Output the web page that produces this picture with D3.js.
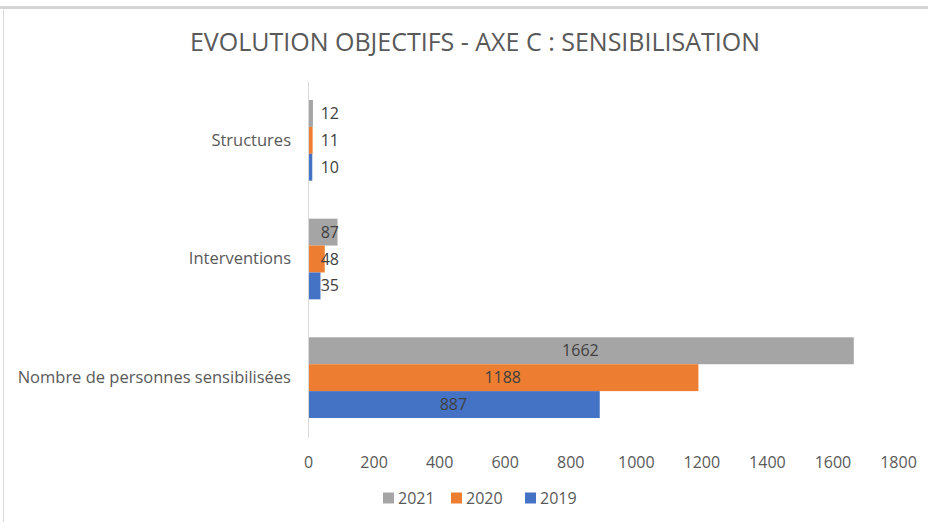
<!DOCTYPE html>
<meta charset="utf-8">
<script src="https://d3js.org/d3.v7.min.js"></script>
<style>
  body { margin: 0; background: #fff; }
  text { font-family: "Open Sans", "Noto Sans", sans-serif; }
</style>
<div id="chart"></div>
<script>

// data
var categories = ["Structures", "Interventions", "Nombre de personnes sensibilisées"];
var years = ["2021", "2020", "2019"];
var values2021 = [12, 87, 1662];
var values2020 = [11, 48, 1188];
var values2019 = [10, 35, 887];
var xTicks = [0, 200, 400, 600, 800, 1000, 1200, 1400, 1600, 1800];
var colors = ["#A5A5A5", "#ED7D31", "#4472C4"];

var series = [values2021, values2020, values2019];

var W = 928, H = 522;
var margin = {top: 81, right: 30, bottom: 85, left: 308};
var width = 898 - margin.left, height = H - margin.top - margin.bottom;

var svg = d3.select("#chart")
  .append("svg")
    .attr("width", W)
    .attr("height", H);

// frame lines from the screenshot
svg.append("line").attr("x1", 0).attr("x2", W).attr("y1", 7.5).attr("y2", 7.5)
  .style("stroke", "#d4d4d4").style("stroke-width", 3);
svg.append("line").attr("x1", 3.5).attr("x2", 3.5).attr("y1", 8).attr("y2", H)
  .style("stroke", "#d9d9d9").style("stroke-width", 1);

var g = svg.append("g")
  .attr("transform", "translate(" + margin.left + "," + margin.top + ")");

var x = d3.scaleLinear().domain([0, 1800]).range([0, width]);
var y = d3.scaleBand().domain(categories).range([0, height]).paddingInner(0.32).paddingOuter(0.16);
var ySub = d3.scaleBand().domain(years).range([0, y.bandwidth()]);

// title
svg.append("text")
  .attr("x", 475)
  .attr("y", 51)
  .attr("text-anchor", "middle")
  .style("font-size", "25px")
  .style("fill", "#595959")
  .text("EVOLUTION OBJECTIFS - AXE C : SENSIBILISATION");

// x axis (labels only)
var xAxis = g.append("g")
  .attr("transform", "translate(0," + (height + 17) + ")")
  .call(d3.axisBottom(x).tickValues(xTicks).tickSize(0).tickFormat(d3.format("d")));
xAxis.select(".domain").remove();
xAxis.selectAll("text")
  .style("font-size", "16px")
  .style("fill", "#595959")
  .style("font-family", "'Open Sans', sans-serif");

// y axis
var yAxis = g.append("g")
  .call(d3.axisLeft(y).tickSize(0).tickPadding(17));
yAxis.select(".domain").attr("stroke", "#d9d9d9");
yAxis.selectAll("text")
  .style("font-size", "16.5px")
  .style("fill", "#595959")
  .style("font-family", "'Open Sans', sans-serif");

// bars
years.forEach(function(yr, i) {
  var grp = g.append("g");
  grp.selectAll("rect")
    .data(series[i])
    .enter()
    .append("rect")
      .attr("x", x(0) + 1)
      .attr("y", function(d, j) { return y(categories[j]) + ySub(yr); })
      .attr("width", function(d) { return x(d) - x(0); })
      .attr("height", ySub.bandwidth())
      .style("fill", colors[i]);

  grp.selectAll("text")
    .data(series[i])
    .enter()
    .append("text")
      .attr("x", function(d) { return x(d) > 80 ? (x(0) + x(d)) / 2 : Math.max(x(d), 30) + 1; })
      .attr("y", function(d, j) { return y(categories[j]) + ySub(yr) + ySub.bandwidth() / 2; })
      .attr("dy", "0.35em")
      .attr("text-anchor", function(d) { return x(d) > 80 ? "middle" : "end"; })
      .style("font-size", "16px")
      .style("fill", "#404040")
      .text(function(d) { return d; });
});

// legend
var legend = svg.append("g").attr("transform", "translate(383,498)");
var lx = [0, 68, 142];
years.forEach(function(yr, i) {
  legend.append("rect")
    .attr("x", lx[i]).attr("y", -5.5)
    .attr("width", 11).attr("height", 11)
    .style("fill", colors[i]);
  legend.append("text")
    .attr("x", lx[i] + 15).attr("y", 0)
    .attr("dy", "0.35em")
    .style("font-size", "16px")
    .style("fill", "#595959")
    .text(yr);
});
</script>
